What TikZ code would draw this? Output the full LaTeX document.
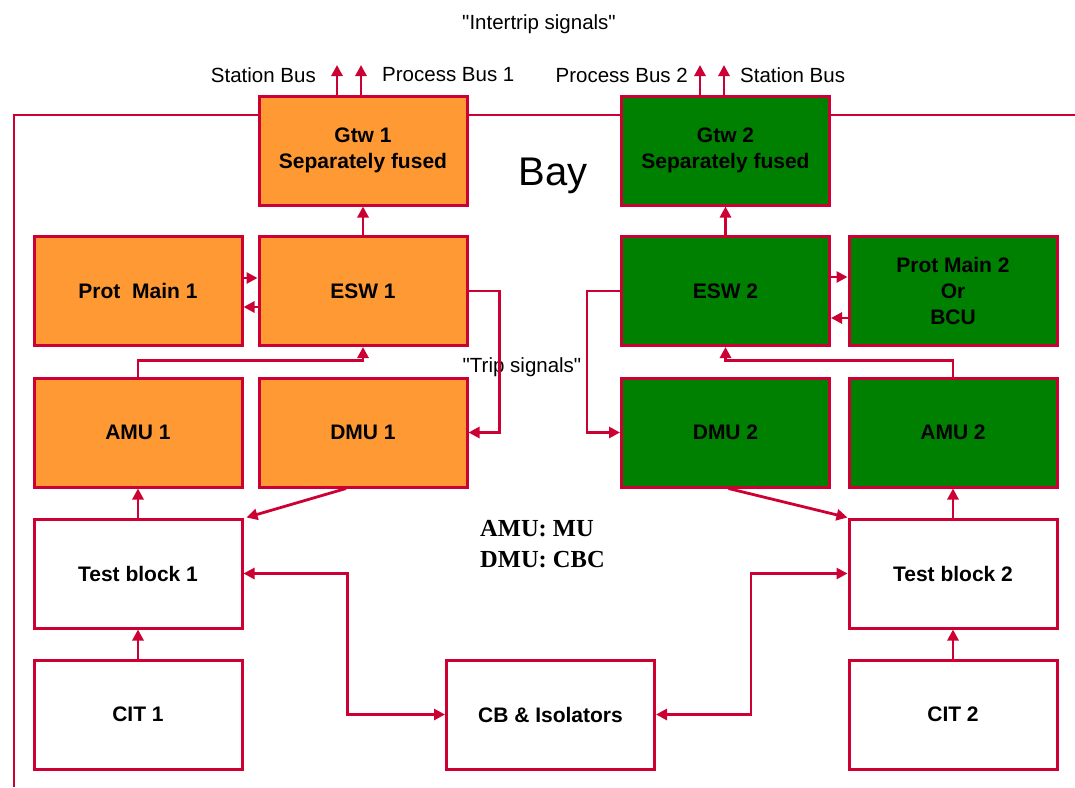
\documentclass[tikz,border=0pt]{standalone}
\usepackage{fontspec}
\setmainfont{Liberation Sans}
\newfontfamily\serifbold{Liberation Serif}
\usetikzlibrary{arrows.meta,positioning,calc}
\definecolor{bordred}{RGB}{204,0,51}
\definecolor{orangefill}{RGB}{255,153,51}
\definecolor{greenfill}{RGB}{0,128,0}
\newcommand{\sq}{\textquotedbl}
\tikzset{
  box/.style={draw=bordred, line width=3pt, minimum width=208pt, minimum height=109pt,
    inner sep=0pt, align=center, font=\fontsize{21}{26}\selectfont\bfseries},
  obox/.style={box, fill=orangefill},
  gbox/.style={box, fill=greenfill},
  wbox/.style={box, fill=white},
  conn/.style={draw=bordred, line width=2.8pt, -{Triangle[length=11pt,width=11pt]}},
  conn2/.style={draw=bordred, line width=2.8pt, {Triangle[length=11pt,width=11pt]}-{Triangle[length=11pt,width=11pt]}},
  lbl/.style={font=\fontsize{20.5}{24}\selectfont, inner sep=0pt},
}
\begin{document}
\begin{tikzpicture}[x=1pt,y=-1pt]
\useasboundingbox (0,0) rectangle (1075,787);
% bay outline
\coordinate (bayR) at (1075,115);
\coordinate (bayB) at (14,787);
\draw[bordred, line width=2.5pt] (bayR) -| (bayB);

% boxes
\node[obox] (gtw1) at (363,150.5) {Gtw 1\\Separately fused};
\node[gbox] (gtw2) at (725.5,150.5) {Gtw 2\\Separately fused};
\node[obox] (prot1) at (138,291) {Prot\ \ Main 1};
\node[obox] (esw1) at (363,291) {ESW 1};
\node[gbox] (esw2) at (725.5,291) {ESW 2};
\node[gbox] (prot2) at (953,291) {Prot Main 2\\Or\\BCU};
\node[obox] (amu1) at (138,432.5) {AMU 1};
\node[obox] (dmu1) at (363,432.5) {DMU 1};
\node[gbox] (dmu2) at (725.5,432.5) {DMU 2};
\node[gbox] (amu2) at (953,432.5) {AMU 2};
\node[wbox] (tb1) at (138,573.5) {Test block 1};
\node[wbox] (tb2) at (953,573.5) {Test block 2};
\node[wbox] (cit1) at (138,714.5) {CIT 1};
\node[wbox] (cb) at (550.5,714.5) {CB \& Isolators};
\node[wbox] (cit2) at (953,714.5) {CIT 2};

% texts
\node[lbl] (intertrip) at (539,24) {\sq Intertrip signals\sq};
\node[lbl, anchor=east] (sb1) at (316,75) {Station Bus};
\node[lbl, anchor=west] (pb1) at (382,75) {Process Bus 1};
\node[lbl, anchor=east] (pb2) at (688,75) {Process Bus 2};
\node[lbl, anchor=west] (sb2) at (740,75) {Station Bus};
\node[font=\fontsize{40}{44}\selectfont, inner sep=0pt] (bay) at (553,176) {Bay};
\node[lbl] (trip) at (522,367) {\sq Trip signals\sq};
\node[font=\serifbold\fontsize{24.5}{31}\selectfont\bfseries, align=left, anchor=north west, inner sep=0pt] (legend) at (480,520) {AMU: MU\\DMU: CBC};

% gateway outputs
\coordinate (o1) at (337,65);
\coordinate (o2) at (361,65);
\coordinate (o3) at (700,65);
\coordinate (o4) at (724,65);
\draw[conn] (gtw1.north -| o1) -- (o1);
\draw[conn] (gtw1.north -| o2) -- (o2);
\draw[conn] (gtw2.north -| o3) -- (o3);
\draw[conn] (gtw2.north -| o4) -- (o4);

% ESW to Gtw
\draw[conn] (esw1.north) -- (gtw1.south);
\draw[conn] (esw2.north) -- (gtw2.south);

% Prot <-> ESW
\draw[conn] ([yshift=13pt]prot1.east) -- ([yshift=13pt]esw1.west);
\draw[conn] ([yshift=-16pt]esw1.west) -- ([yshift=-16pt]prot1.east);
\draw[conn] ([yshift=14pt]esw2.east) -- ([yshift=14pt]prot2.west);
\draw[conn] ([yshift=-27pt]prot2.west) -- ([yshift=-27pt]esw2.east);

% trip signals
\draw[conn] (esw1.east) -- ++(31,0) |- (dmu1.east);
\draw[conn] (esw2.west) -- ++(-33,0) |- (dmu2.west);

% AMU to ESW
\draw[conn] (amu1.north) -- ++(0,-16) -| (esw1.south);
\draw[conn] (amu2.north) -- ++(0,-16) -| (esw2.south);

% DMU to test blocks
\draw[conn] ([xshift=-17pt]dmu1.south) -- ([xshift=3pt]tb1.north east);
\draw[conn] ([xshift=3pt]dmu2.south) -- (tb2.north west);

% test block to AMU, CIT to test block
\draw[conn] (tb1.north) -- (amu1.south);
\draw[conn] (tb2.north) -- (amu2.south);
\draw[conn] (cit1.north) -- (tb1.south);
\draw[conn] (cit2.north) -- (tb2.south);

% CB <-> test blocks
\draw[conn2] (tb1.east) -- ++(104,0) |- (cb.west);
\draw[conn2] (cb.east) -- ++(95,0) |- (tb2.west);
\end{tikzpicture}
\end{document}
